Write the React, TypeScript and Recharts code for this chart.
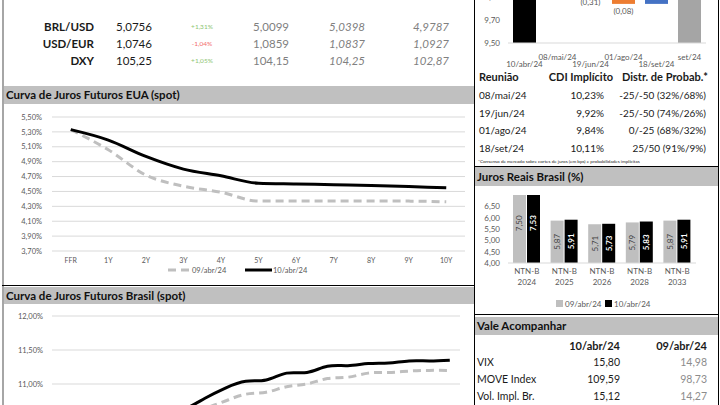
import {
  BarChart,
  Bar,
  XAxis,
  YAxis,
  Cell,
  LabelList,
  LineChart,
  Line,
  CartesianGrid,
} from "recharts";

// câmbio
const fxNames = ["BRL/USD", "USD/EUR", "DXY"];
const fxLast = ["5,0756", "1,0746", "105,25"];
const fxChange = ["+1,31%", "-1,04%", "+1,05%"];
const fxPrev = ["5,0099", "1,0859", "104,15"];
const fxWeek = ["5,0398", "1,0837", "104,25"];
const fxMonth = ["4,9787", "1,0927", "102,87"];

// CDI implícito (waterfall)
const cdiDates = ["10/abr/24", "08/mai/24", "19/jun/24", "01/ago/24", "18/set/24", "set/24"];
const cdiLow = [9.5, 10.23, 9.92, 9.84, 9.84, 9.5];
const cdiHigh = [10.65, 10.65, 10.23, 9.92, 10.11, 10.11];
const cdiDelta = ["", "(0,42)", "(0,31)", "(0,08)", "0,27", ""];
const cdiTicks = [9.5, 9.7, 9.9, 10.1, 10.3, 10.5, 10.7, 10.9];

const copomDates = ["08/mai/24", "19/jun/24", "01/ago/24", "18/set/24"];
const copomCdi = ["10,23%", "9,92%", "9,84%", "10,11%"];
const copomProb = ["-25/-50 (32%/68%)", "-25/-50 (74%/26%)", "0/-25 (68%/32%)", "25/50 (91%/9%)"];

// curva EUA
const usTenors = ["FFR", "1Y", "2Y", "3Y", "4Y", "5Y", "6Y", "7Y", "8Y", "9Y", "10Y"];
const us0904 = [5.33, 5.06, 4.72, 4.57, 4.49, 4.37, 4.37, 4.37, 4.37, 4.37, 4.36];
const us1004 = [5.33, 5.19, 4.97, 4.8, 4.71, 4.61, 4.6, 4.59, 4.58, 4.565, 4.55];
const usTicks = [3.7, 3.9, 4.1, 4.3, 4.5, 4.7, 4.9, 5.1, 5.3, 5.5];

// curva Brasil
const brTenors = [
  "mai/24", "jul/24", "out/24", "jan/25", "abr/25", "jul/25", "out/25", "jan/26", "abr/26", "jul/26",
  "out/26", "jan/27", "jul/27", "jan/28", "jul/28", "jan/29", "jan/30", "jan/31", "jan/32", "jan/33",
];
const br0904 = [10.4, 10.25, 10.18, 10.2, 10.28, 10.4, 10.52, 10.64, 10.75, 10.85, 10.88, 10.96, 11.0, 11.08, 11.1, 11.16, 11.17, 11.19, 11.2, 11.2];
const br1004 = [10.45, 10.3, 10.25, 10.3, 10.4, 10.53, 10.63, 10.79, 10.94, 11.04, 11.06, 11.16, 11.17, 11.26, 11.27, 11.3, 11.31, 11.34, 11.34, 11.35];
const brTicks = [9.5, 10, 10.5, 11, 11.5, 12];

// juros reais
const ntnbYears = ["2024", "2025", "2026", "2028", "2033"];
const real0904 = [7.5, 5.87, 5.71, 5.79, 5.87];
const real1004 = [7.53, 5.91, 5.73, 5.83, 5.91];
const realTicks = [4, 4.5, 5, 5.5, 6, 6.5];

// vale acompanhar
const watchNames = ["VIX", "MOVE Index", "Vol. Impl. Br."];
const watch1004 = ["15,80", "109,59", "15,12"];
const watch0904 = ["14,98", "98,73", "14,27"];

const FONT = "Lato, 'Open Sans', sans-serif";
const AX = "#595959";
const comma = (v: number, d = 2) => v.toFixed(d).replace(".", ",");

const cdiData = cdiDates.map((d, i) => ({ name: d, range: [cdiLow[i], cdiHigh[i]] }));
const cdiColors = ["#000000", "#ed7d31", "#ed7d31", "#ed7d31", "#4472c4", "#a5a5a5"];
const usData = usTenors.map((t, i) => ({ t, a: us0904[i], b: us1004[i] }));
const brData = brTenors.map((t, i) => ({ t, a: br0904[i], b: br1004[i] }));
const realData = ntnbYears.map((y, i) => ({ y, a: real0904[i], b: real1004[i] }));

function Txt({ x, y, w = 100, align = "left", children, style }: any) {
  const left = align === "right" ? x - w : align === "center" ? x - w / 2 : x;
  return (
    <div
      style={{
        position: "absolute",
        left,
        top: y - 8,
        width: w,
        height: 16,
        lineHeight: "16px",
        textAlign: align,
        whiteSpace: "nowrap",
        ...style,
      }}
    >
      {children}
    </div>
  );
}

function Box({ x, y, w, h, bg }: any) {
  return <div style={{ position: "absolute", left: x, top: y, width: w, height: h, background: bg }} />;
}

function Header({ x, y, w, h, title }: any) {
  return (
    <div
      style={{
        position: "absolute",
        left: x,
        top: y,
        width: w,
        height: h,
        background: "#c0c0c0",
        fontWeight: 700,
        fontSize: 11.5,
        lineHeight: h + "px",
        paddingLeft: 2,
        boxSizing: "border-box",
        color: "#111",
      }}
    >
      {title}
    </div>
  );
}

function StaggerTick({ x, y, payload }: any) {
  const i = cdiDates.indexOf(payload.value);
  return (
    <text x={x} y={y + (i % 2 === 0 ? 24 : 17)} textAnchor="middle" fontSize={8} fill={AX} fontFamily={FONT}>
      {payload.value}
    </text>
  );
}

function WfLabel(p: any) {
  const t = cdiDelta[p.index];
  if (!t) return null;
  const top = Math.min(p.y, p.y + p.height);
  const bottom = Math.max(p.y, p.y + p.height);
  const down = t.startsWith("(");
  return (
    <text x={p.x + p.width / 2} y={down ? bottom + 10 : top - 4} textAnchor="middle" fontSize={8} fill={AX} fontFamily={FONT}>
      {t}
    </text>
  );
}

function NtnbTick({ x, y, payload }: any) {
  return (
    <text x={x} y={y} textAnchor="middle" fontSize={8} fill={AX} fontFamily={FONT}>
      <tspan x={x} dy={11}>NTN-B</tspan>
      <tspan x={x} dy={11}>{payload.value}</tspan>
    </text>
  );
}

function RotLabel(color: string, bold: boolean) {
  return (p: any) => {
    const cx = p.x + p.width / 2;
    const cy = p.y + p.height / 2;
    return (
      <text
        x={cx}
        y={cy}
        transform={`rotate(-90, ${cx}, ${cy})`}
        textAnchor="middle"
        dominantBaseline="central"
        fontSize={8}
        fontWeight={bold ? 700 : 400}
        fill={color}
        fontFamily={FONT}
      >
        {comma(p.value)}
      </text>
    );
  };
}

export default function App() {
  const pct = (v: number) => comma(v) + "%";
  return (
    <div
      style={{
        position: "absolute",
        left: 0,
        top: 0,
        width: 720,
        height: 405,
        overflow: "hidden",
        background: "#fff",
        fontFamily: FONT,
        color: "#1a1a1a",
      }}
    >
      {/* borders */}
      <Box x={2} y={0} w={2} h={405} bg="#a6a6a6" />
      <Box x={474} y={0} w={1} h={405} bg="#000" />
      <Box x={718} y={0} w={1} h={405} bg="#000" />
      <Box x={2} y={285} w={473} h={1} bg="#000" />
      <Box x={474} y={166} w={245} h={1} bg="#000" />
      <Box x={474} y={314} w={245} h={1} bg="#000" />

      {/* câmbio */}
      {fxNames.map((n, i) => {
        const y = 27 + i * 17;
        return (
          <div key={n}>
            <Txt x={94} y={y} align="right" style={{ fontWeight: 700, fontSize: 11.5 }}>{n}</Txt>
            <Txt x={116} y={y} style={{ fontSize: 11.5 }}>{fxLast[i]}</Txt>
            <Txt x={202} y={y} w={40} align="center" style={{ fontSize: 6.5, color: fxChange[i].startsWith("-") ? "#f26b6b" : "#8cc472" }}>{fxChange[i]}</Txt>
            <Txt x={289} y={y} align="right" style={{ fontSize: 11.5, color: "#808080" }}>{fxPrev[i]}</Txt>
            <Txt x={365} y={y} align="right" style={{ fontSize: 11.5, color: "#808080", fontStyle: "italic" }}>{fxWeek[i]}</Txt>
            <Txt x={449} y={y} align="right" style={{ fontSize: 11.5, color: "#808080", fontStyle: "italic" }}>{fxMonth[i]}</Txt>
          </div>
        );
      })}

      {/* CDI waterfall */}
      <div style={{ position: "absolute", left: 470, top: -130 }}>
        <BarChart width={250} height={205} data={cdiData} margin={{ top: 12, right: 14, bottom: 2, left: 0 }} barSize={23}>
          <XAxis dataKey="name" height={30} tickLine={false} tickSize={0} tickMargin={0} axisLine={{ stroke: "#d9d9d9" }} interval={0} tick={<StaggerTick />} />
          <YAxis
            width={38}
            domain={[9.5, 10.9]}
            ticks={cdiTicks}
            interval={0}
            tickFormatter={(v: number) => comma(v)}
            tickLine={false}
            tickSize={0}
            tickMargin={8}
            axisLine={false}
            tick={{ fontSize: 8, fill: AX, fontFamily: FONT }}
          />
          <Bar dataKey="range" isAnimationActive={false}>
            {cdiData.map((d, i) => (
              <Cell key={d.name} fill={cdiColors[i]} />
            ))}
            <LabelList dataKey="range" content={WfLabel} />
          </Bar>
        </BarChart>
      </div>

      {/* tabela Copom */}
      <Txt x={479} y={77} style={{ fontWeight: 700, fontSize: 11 }}>Reunião</Txt>
      <Txt x={613} y={77} align="right" style={{ fontWeight: 700, fontSize: 11 }}>CDI Implícito</Txt>
      <Txt x={708} y={77} w={120} align="right" style={{ fontWeight: 700, fontSize: 11 }}>Distr. de Probab.*</Txt>
      {copomDates.map((d, i) => {
        const y = 95 + i * 17.6;
        return (
          <div key={d}>
            <Txt x={479} y={y} style={{ fontSize: 10 }}>{d}</Txt>
            <Txt x={604} y={y} align="right" style={{ fontSize: 10 }}>{copomCdi[i]}</Txt>
            <Txt x={706} y={y} w={140} align="right" style={{ fontSize: 10 }}>{copomProb[i]}</Txt>
          </div>
        );
      })}
      <Txt x={478} y={161} w={230} style={{ fontSize: 4.6 }}>
        *Consenso de mercado sobre cortes de juros (em bps) e probabilidades implícitas
      </Txt>

      {/* curva EUA */}
      <Header x={4} y={86} w={470} h={18} title="Curva de Juros Futuros EUA (spot)" />
      <div style={{ position: "absolute", left: 4, top: 104 }}>
        <LineChart width={470} height={180} data={usData} margin={{ top: 13, right: 9, bottom: 17, left: 0 }}>
          <CartesianGrid vertical={false} stroke="#d9d9d9" />
          <XAxis
            dataKey="t"
            height={16}
            padding={{ left: 18.75, right: 18.75 }}
            axisLine={false}
            tickLine={false}
            tickSize={0}
            tickMargin={7}
            interval={0}
            tick={{ fontSize: 7, fill: AX, fontFamily: FONT }}
          />
          <YAxis
            width={48}
            domain={[3.7, 5.5]}
            ticks={usTicks}
            interval={0}
            tickFormatter={pct}
            axisLine={false}
            tickLine={false}
            tickSize={0}
            tickMargin={10}
            tick={{ fontSize: 7.5, fill: AX, fontFamily: FONT }}
          />
          <Line type="monotone" dataKey="a" stroke="#bfbfbf" strokeWidth={3} strokeDasharray="8 5" dot={false} isAnimationActive={false} />
          <Line type="monotone" dataKey="b" stroke="#000" strokeWidth={3} dot={false} isAnimationActive={false} />
        </LineChart>
      </div>
      <svg style={{ position: "absolute", left: 160, top: 264 }} width={170} height={12}>
        <line x1={8} y1={6} x2={30} y2={6} stroke="#bfbfbf" strokeWidth={3} strokeDasharray="8 5" />
        <text x={32} y={9} fontSize={7.5} fill={AX} fontFamily={FONT}>09/abr/24</text>
        <line x1={85} y1={6} x2={112} y2={6} stroke="#000" strokeWidth={3} />
        <text x={113} y={9} fontSize={7.5} fill={AX} fontFamily={FONT}>10/abr/24</text>
      </svg>

      {/* curva Brasil */}
      <Header x={4} y={287} w={470} h={17} title="Curva de Juros Futuros Brasil (spot)" />
      <div style={{ position: "absolute", left: 4, top: 303 }}>
        <LineChart width={470} height={215} data={brData} margin={{ top: 13, right: 14, bottom: 12, left: 0 }}>
          <CartesianGrid vertical={false} stroke="#d9d9d9" />
          <XAxis
            dataKey="t"
            height={20}
            padding={{ left: 10.2, right: 10.2 }}
            axisLine={false}
            tickLine={false}
            tickSize={0}
            tickMargin={7}
            interval={0}
            tick={{ fontSize: 7, fill: AX, fontFamily: FONT }}
          />
          <YAxis
            width={48}
            domain={[9.5, 12]}
            ticks={brTicks}
            interval={0}
            tickFormatter={pct}
            axisLine={false}
            tickLine={false}
            tickSize={0}
            tickMargin={9}
            tick={{ fontSize: 7.5, fill: AX, fontFamily: FONT }}
          />
          <Line type="natural" dataKey="a" stroke="#bfbfbf" strokeWidth={3} strokeDasharray="8 5" dot={false} isAnimationActive={false} />
          <Line type="natural" dataKey="b" stroke="#000" strokeWidth={3} dot={false} isAnimationActive={false} />
        </LineChart>
      </div>

      {/* juros reais */}
      <Header x={475} y={167} w={243} h={19} title="Juros Reais Brasil (%)" />
      <div style={{ position: "absolute", left: 475, top: 186 }}>
        <BarChart width={243} height={128} data={realData} margin={{ top: 9, right: 22, bottom: 23, left: 0 }} barSize={13} barGap={1}>
          <XAxis dataKey="y" height={28} tickLine={false} tickSize={0} tickMargin={0} axisLine={{ stroke: "#d9d9d9" }} interval={0} tick={<NtnbTick />} />
          <YAxis
            width={33}
            domain={[4, 7]}
            ticks={realTicks}
            interval={0}
            allowDataOverflow
            tickFormatter={(v: number) => comma(v)}
            axisLine={false}
            tickLine={false}
            tickSize={0}
            tickMargin={8}
            tick={{ fontSize: 8, fill: AX, fontFamily: FONT }}
          />
          <Bar dataKey="a" fill="#bfbfbf" isAnimationActive={false}>
            <LabelList dataKey="a" content={RotLabel("#404040", false)} />
          </Bar>
          <Bar dataKey="b" fill="#000" isAnimationActive={false}>
            <LabelList dataKey="b" content={RotLabel("#fff", true)} />
          </Bar>
        </BarChart>
      </div>
      <svg style={{ position: "absolute", left: 550, top: 298 }} width={120} height={12}>
        <rect x={6} y={2} width={7} height={7} fill="#bfbfbf" />
        <text x={15} y={9} fontSize={8} fill={AX} fontFamily={FONT}>09/abr/24</text>
        <rect x={55} y={2} width={7} height={7} fill="#000" />
        <text x={64} y={9} fontSize={8} fill={AX} fontFamily={FONT}>10/abr/24</text>
      </svg>

      {/* vale acompanhar */}
      <Header x={475} y={317} w={243} h={18} title="Vale Acompanhar" />
      <Txt x={620} y={346} align="right" style={{ fontWeight: 700, fontSize: 11 }}>10/abr/24</Txt>
      <Txt x={707} y={346} align="right" style={{ fontWeight: 700, fontSize: 11 }}>09/abr/24</Txt>
      {watchNames.map((n, i) => {
        const y = 362 + i * 17;
        return (
          <div key={n}>
            <Txt x={477} y={y} style={{ fontSize: 10.5 }}>{n}</Txt>
            <Txt x={620} y={y} align="right" style={{ fontSize: 10.5 }}>{watch1004[i]}</Txt>
            <Txt x={707} y={y} align="right" style={{ fontSize: 10.5, color: "#8c8c8c" }}>{watch0904[i]}</Txt>
          </div>
        );
      })}
    </div>
  );
}
